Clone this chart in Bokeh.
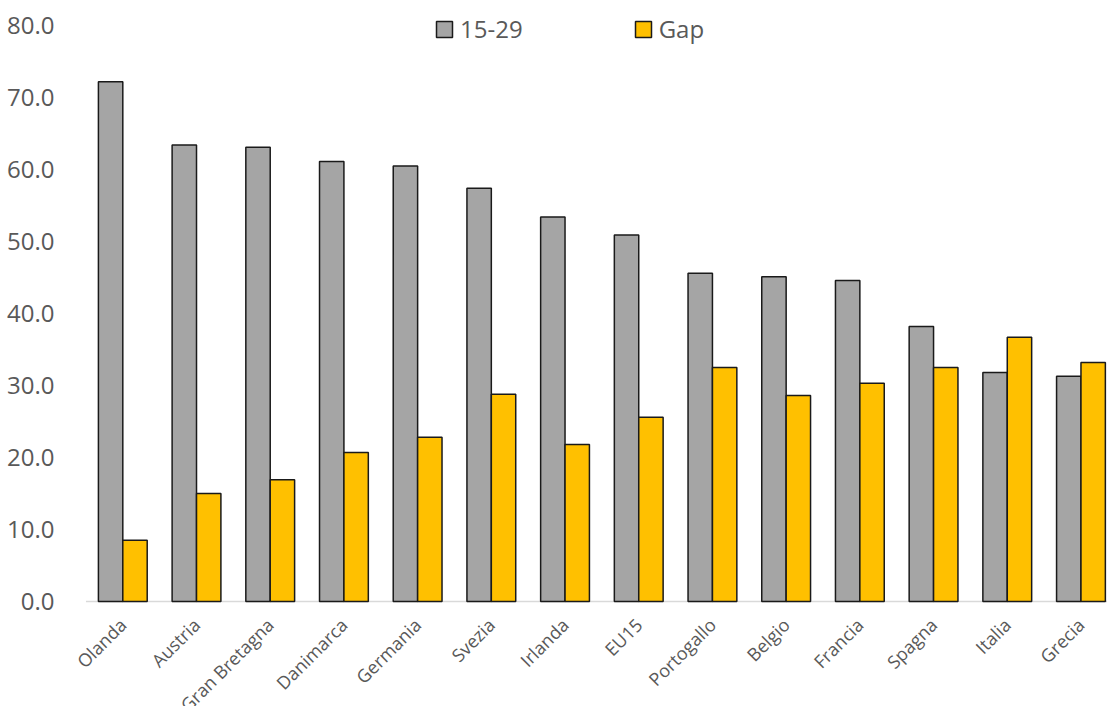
import math
from bokeh.plotting import figure
from bokeh.models import (ColumnDataSource, Range1d, FixedTicker, NumeralTickFormatter,
                          Legend, LegendItem)
from bokeh.transform import dodge
from bokeh.core.properties import value
from bokeh.embed import file_html
from bokeh.resources import INLINE

countries = ["Olanda", "Austria", "Gran Bretagna", "Danimarca", "Germania", "Svezia",
             "Irlanda", "EU15", "Portogallo", "Belgio", "Francia", "Spagna", "Italia", "Grecia"]
youth_15_29 = [72.2, 63.4, 63.1, 61.1, 60.5, 57.4, 53.4, 50.9, 45.6, 45.1, 44.6, 38.2, 31.8, 31.3]
gap = [8.5, 15.0, 16.9, 20.7, 22.8, 28.8, 21.8, 25.6, 32.5, 28.6, 30.3, 32.5, 36.7, 33.2]
y_ticks = [0, 10, 20, 30, 40, 50, 60, 70, 80]
series_labels = ["15-29", "Gap"]

FONT = "Open Sans"
TEXT_COLOR = "#595959"

n = len(countries)
src = ColumnDataSource(dict(
    x=list(range(n)),
    country=countries,
    youth=youth_15_29,
    gap=gap,
    base=[0] * n,
))

p = figure(width=1107, height=706, output_backend="svg", toolbar_location=None,
           x_range=Range1d(-0.7097, 13.36), y_range=Range1d(-14.58, 83.47),
           x_axis_location=None,
           min_border_left=70, min_border_right=0, min_border_top=0, min_border_bottom=0)

p.outline_line_color = None
p.xgrid.visible = False
p.ygrid.visible = False
p.background_fill_color = "white"
p.border_fill_color = "white"

yax = p.yaxis[0]
yax.ticker = FixedTicker(ticks=y_ticks)
yax.formatter = NumeralTickFormatter(format="0.0")
yax.axis_line_color = None
yax.major_tick_line_color = None
yax.minor_tick_line_color = None
yax.major_label_text_font = FONT
yax.major_label_text_font_size = "24px"
yax.major_label_text_color = TEXT_COLOR
yax.major_label_standoff = 10

# category axis baseline, spanning the category bands
p.segment(x0=[-0.5], y0=[0], x1=[n - 0.5], y1=[0], line_color="#D9D9D9", line_width=1.5)

bw = 0.331
r1 = p.vbar(x=dodge("x", -bw / 2, range=p.x_range), top="youth", bottom=0, width=bw,
            source=src, fill_color="#A5A5A5", line_color="#1a1a1a", line_width=1.5)
r2 = p.vbar(x=dodge("x", bw / 2, range=p.x_range), top="gap", bottom=0, width=bw,
            source=src, fill_color="#FFC000", line_color="#1a1a1a", line_width=1.5)

p.text(x="x", y="base", text="country", source=src, angle=math.pi / 4,
       text_align="right", text_baseline="middle",
       text_font=value(FONT), text_font_size="18px", text_color=TEXT_COLOR,
       x_offset=0, y_offset=20)

legend = Legend(items=[LegendItem(label=series_labels[0], renderers=[r1]),
                       LegendItem(label=series_labels[1], renderers=[r2])],
                orientation="horizontal", location=(364, 661),
                padding=0, margin=0, spacing=110,
                glyph_width=20, glyph_height=20, label_standoff=6,
                label_text_font=FONT, label_text_font_size="24px",
                label_text_color=TEXT_COLOR,
                border_line_color=None, background_fill_alpha=0)
p.add_layout(legend)

open("out.html", "w").write(file_html(p, INLINE))
